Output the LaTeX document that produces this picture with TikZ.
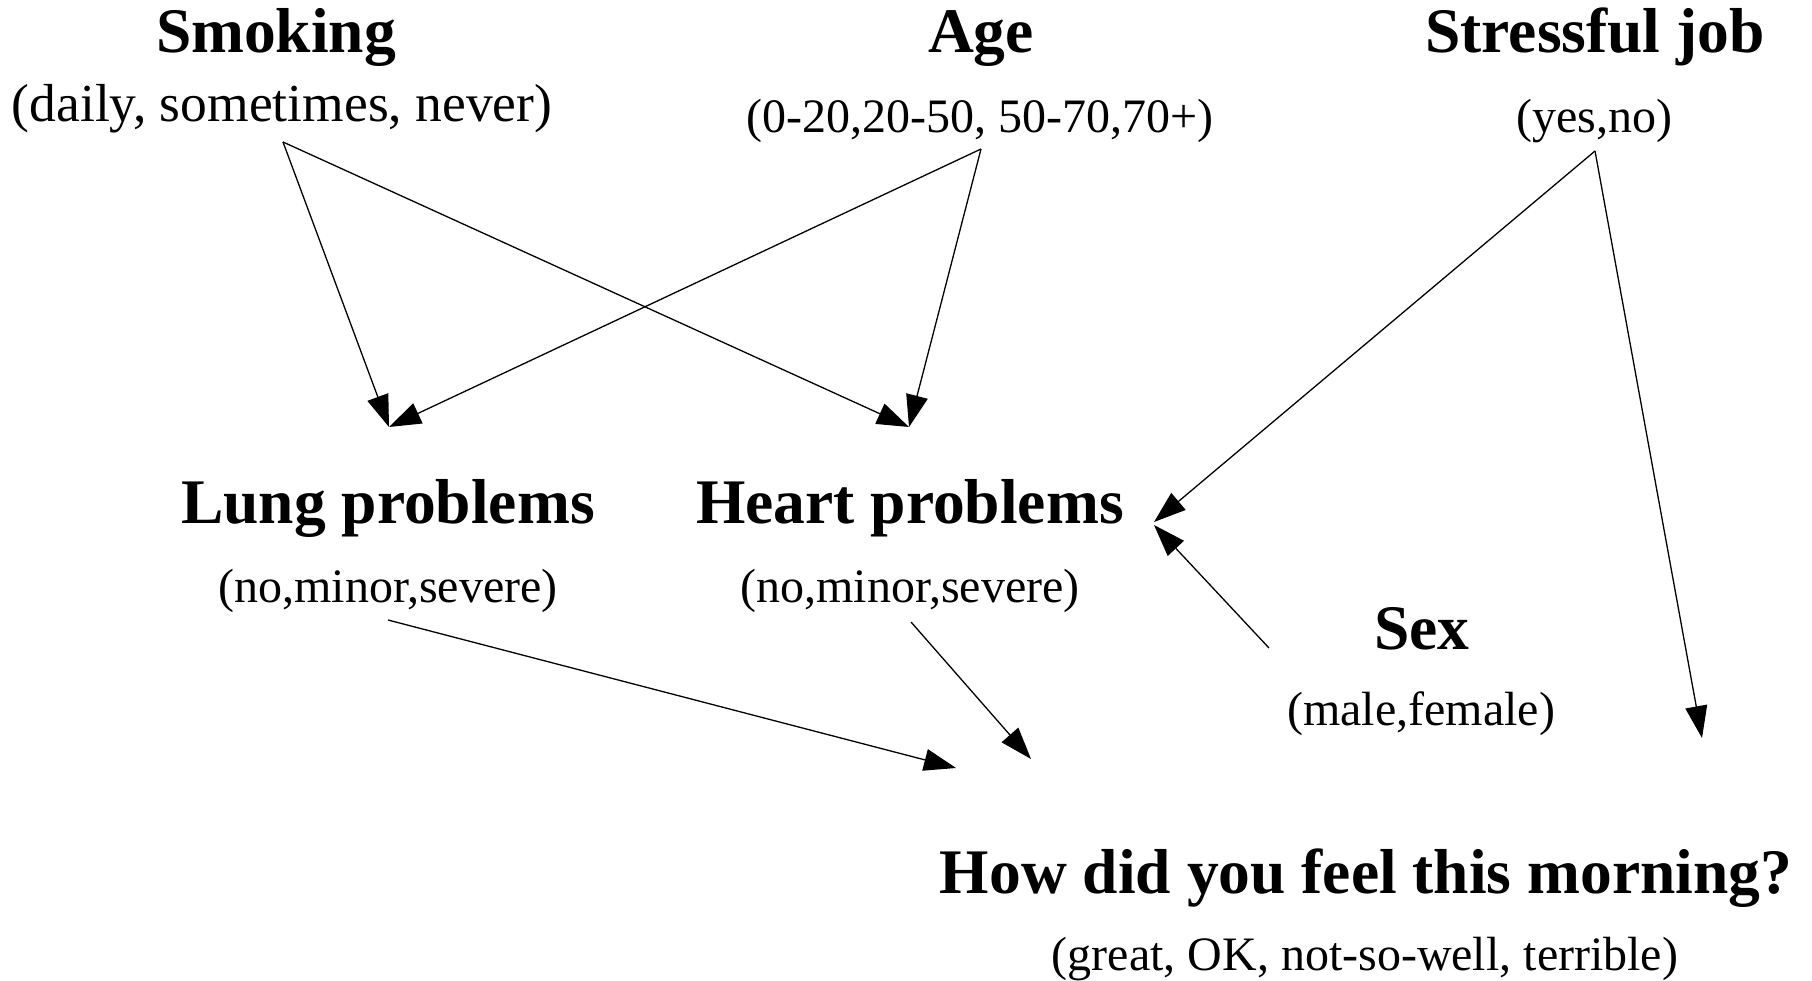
\documentclass[tikz,border=0pt]{standalone}
\usepackage{fontspec}
\setmainfont{Liberation Serif}
\usetikzlibrary{arrows.meta}
\begin{document}
\begin{tikzpicture}[x=1pt,y=1pt,
  title/.style={anchor=base,inner sep=0pt,font=\fontsize{63.5}{63.5}\selectfont\bfseries},
  states/.style={anchor=base,inner sep=0pt,font=\fontsize{48}{48}\selectfont},
  link/.style={line width=1.3pt,-{Triangle[length=32pt,width=22pt]}}]
\useasboundingbox (0,0) rectangle (1812,-981);

% variable names
\node[title] (smk) at (276,-53) {Smoking};
\node[title] (age) at (981,-53) {Age};
\node[title] (job) at (1595,-53) {Stressful job};
\node[title] (lung) at (388,-523) {Lung problems};
\node[title] (heart) at (910,-523) {Heart problems};
\node[title] (sex) at (1422,-649) {Sex};
\node[title] (feel) at (1366,-893) {How did you feel this morning?};

% state lists
\node[states,font=\fontsize{53.5}{53.5}\selectfont] (smks) at (282,-122) {(daily, sometimes, never)};
\node[states] (ages) at (980,-133) {(0-20,20-50, 50-70,70+)};
\node[states] (jobs) at (1594,-133) {(yes,no)};
\node[states] (lungs) at (388,-602) {(no,minor,severe)};
\node[states] (hearts) at (910,-602) {(no,minor,severe)};
\node[states] (sexs) at (1421,-725) {(male,female)};
\node[states] (feels) at (1365,-970) {(great, OK, not-so-well, terrible)};

% connector ends
\coordinate (smkO) at (283,-142);
\coordinate (ageO) at (981,-149);
\coordinate (jobO) at (1595,-151);
\coordinate (sexO) at (1269,-648);
\coordinate (lungO) at (388,-620);
\coordinate (heartO) at (911,-622);
\coordinate (lungI) at (389,-427);
\coordinate (heartI) at (909,-427);
\coordinate (heartR1) at (1154,-522);
\coordinate (heartR2) at (1154,-525);
\coordinate (feelA) at (956,-768);
\coordinate (feelB) at (1031,-759);
\coordinate (feelC) at (1702,-738);

\draw[link] (smkO) -- (lungI);
\draw[link] (smkO) -- (heartI);
\draw[link] (ageO) -- (lungI);
\draw[link] (ageO) -- (heartI);
\draw[link] (jobO) -- (heartR1);
\draw[link] (jobO) -- (feelC);
\draw[link] (sexO) -- (heartR2);
\draw[link] (lungO) -- (feelA);
\draw[link] (heartO) -- (feelB);
\end{tikzpicture}
\end{document}
